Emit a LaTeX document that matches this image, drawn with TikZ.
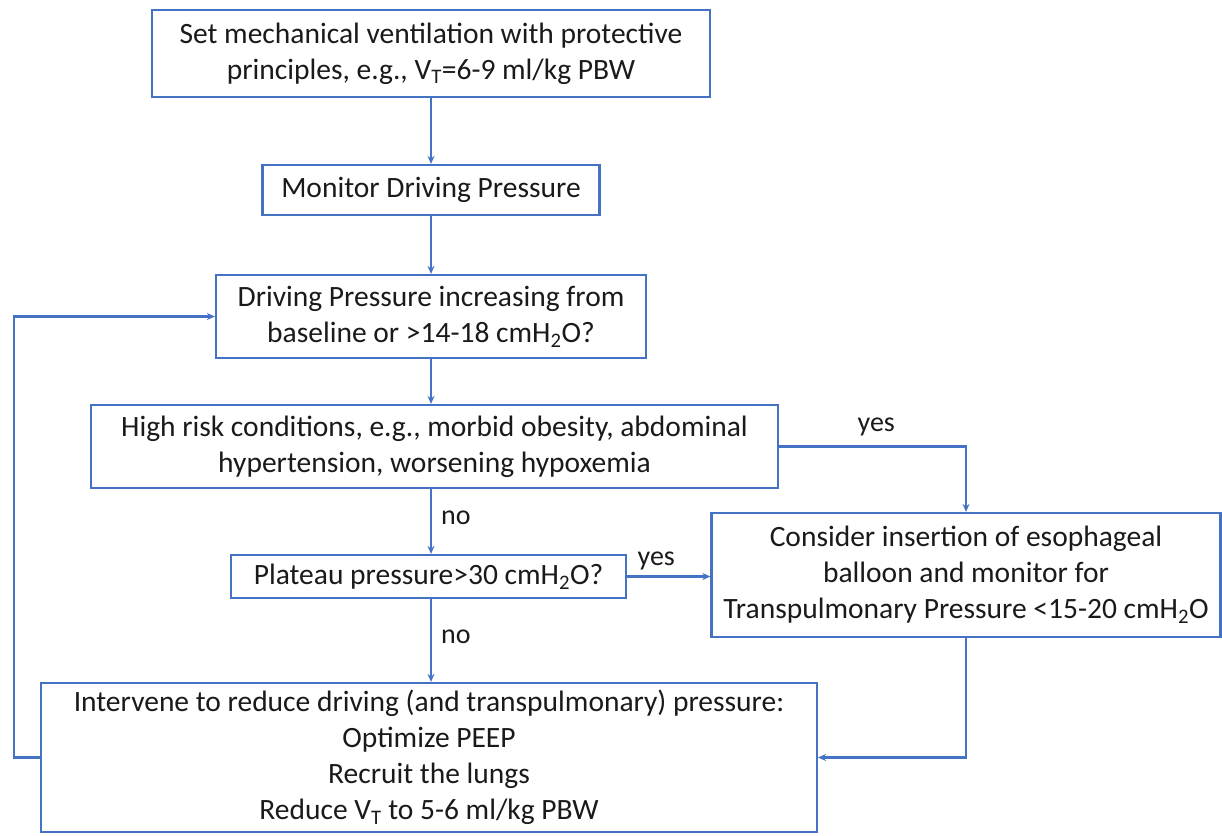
\documentclass[tikz,border=0pt]{standalone}
\usepackage{fontspec}
\setmainfont{Carlito}
\usetikzlibrary{arrows.meta}
\definecolor{bblue}{HTML}{4472C4}
\definecolor{txt}{HTML}{1A1A1A}
\tikzset{
  box/.style={draw=bblue, line width=2.2pt, fill=white, align=center, text=txt,
    font=\fontsize{29.5}{36}\selectfont, inner sep=0pt},
  conn/.style={draw=bblue, line width=2.2pt, -{Stealth[length=8pt,width=7pt]}},
  lbl/.style={text=txt, font=\fontsize{28}{30}\selectfont, inner sep=0pt}
}
\begin{document}
\begin{tikzpicture}[x=1pt,y=-1pt]
\useasboundingbox (0,0) rectangle (1222,835);
\node[box, minimum width=558pt, minimum height=87pt] (b1) at (431,53.5)
  {Set mechanical ventilation with protective\\principles, e.g., V\textsubscript{T}=6-9 ml/kg PBW};
\node[box, minimum width=337pt, minimum height=50pt] (b2) at (431,190)
  {Monitor Driving Pressure};
\node[box, minimum width=430pt, minimum height=83pt] (b3) at (431,316.5)
  {Driving Pressure increasing from\\baseline or >14-18 cmH\textsubscript{2}O?};
\node[box, minimum width=687pt, minimum height=83pt] (b4) at (434.5,446.5)
  {High risk conditions, e.g., morbid obesity, abdominal\\hypertension, worsening hypoxemia};
\node[box, minimum width=395pt, minimum height=43pt] (b5) at (428.5,576.5)
  {Plateau pressure>30 cmH\textsubscript{2}O?};
\node[box, minimum width=509pt, minimum height=124pt] (b6) at (966,575)
  {Consider insertion of esophageal\\balloon and monitor for\\Transpulmonary Pressure <15-20 cmH\textsubscript{2}O};
\node[box, minimum width=776pt, minimum height=149pt] (b7) at (429,757.5)
  {Intervene to reduce driving (and transpulmonary) pressure:\\Optimize PEEP\\Recruit the lungs\\Reduce V\textsubscript{T}\ to 5-6 ml/kg PBW};
\draw[conn] (b1.south) -- (b2.north);
\draw[conn] (b2.south) -- (b3.north);
\draw[conn] (b3.south) -- (b3.south |- b4.north);
\draw[conn] (b3.south |- b4.south) -- node[lbl, right=9pt, pos=0.45]{no} (b3.south |- b5.north);
\draw[conn] (b3.south |- b5.south) -- node[lbl, right=9pt, pos=0.45]{no} (b3.south |- b7.north);
\draw[conn] (b5.east) -- node[lbl, above=5pt, pos=0.35]{yes} (b5.east -| b6.west);
\draw[conn] (b4.east) -| node[lbl, above=9pt, pos=0.26]{yes} (b6.north);
\draw[conn] (b6.south) |- (b7.east);
\coordinate (lp) at (14,757.5);
\draw[conn] (b7.west) -- (lp) |- (b3.west);
\end{tikzpicture}
\end{document}
